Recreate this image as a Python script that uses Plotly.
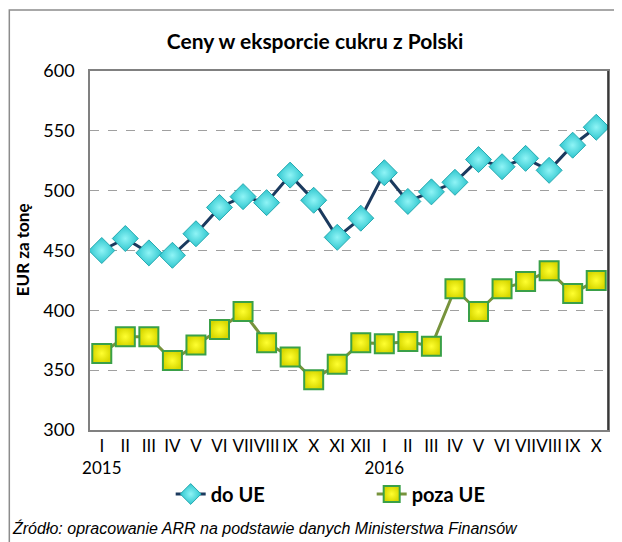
import plotly.graph_objects as go

months = ["I", "II", "III", "IV", "V", "VI", "VII", "VIII", "IX", "X", "XI", "XII",
          "I", "II", "III", "IV", "V", "VI", "VII", "VIII", "IX", "X"]
year_labels = {0: "2015", 12: "2016"}
do_ue = [450, 460, 448, 446, 464, 486, 495, 490, 513, 492, 461, 477,
         515, 491, 499, 507, 526, 520, 527, 517, 538, 553]
poza_ue = [364, 378, 378, 358, 371, 384, 399, 373, 361, 342, 355, 373,
           372, 374, 370, 418, 399, 418, 424, 433, 414, 425]

x = list(range(len(months)))
ticktext = [m + ("<br>" + year_labels[i] if i in year_labels else "") for i, m in enumerate(months)]

fig = go.Figure()
fig.add_trace(go.Scatter(
    x=x, y=do_ue, name="<b>do UE</b>", mode="lines+markers",
    line=dict(color="#1B3A5E", width=3),
    marker=dict(symbol="diamond", size=20, color="#2EC6CE",
                line=dict(color="#27A9B0", width=1),
                gradient=dict(type="radial", color="#8FF4F6")),
))
fig.add_trace(go.Scatter(
    x=x, y=poza_ue, name="<b>poza UE</b>", mode="lines+markers",
    line=dict(color="#77933C", width=3),
    marker=dict(symbol="square", size=19, color="#D8D800",
                line=dict(color="#3AA048", width=2),
                gradient=dict(type="radial", color="#FFFF30")),
))

# page body has an 8px margin; figure coordinates are window coordinates minus 8
OFF = 8
W, H = 622 - OFF, 542 - OFF
L, T = 90 - OFF, 71 - OFF
R = W - (610 - OFF)
B = H - (430 - OFF)
pw, ph = W - L - R, H - T - B


def px_x(p):
    return (p - OFF - L) / pw


def px_y(p):
    return (H - B - (p - OFF)) / ph


fig.update_layout(
    width=W, height=H,
    margin=dict(l=L, r=R, t=T, b=B),
    paper_bgcolor="white", plot_bgcolor="white",
    font=dict(family="Lato, Carlito, Arial", size=17, color="black"),
    title=dict(text="<b>Ceny w eksporcie cukru z Polski</b>", x=0.5, xanchor="center",
               y=1 - (42 - OFF) / H, yanchor="middle", font=dict(size=21, family="Lato")),
    xaxis=dict(range=[-0.5, len(months) - 0.5], tickvals=x, ticktext=ticktext,
               showgrid=False, showline=True, linecolor="#808080", linewidth=1.5,
               mirror=True, ticks="", tickfont=dict(size=17), zeroline=False,
               tickangle=0),
    yaxis=dict(range=[300, 600], dtick=50, showgrid=True, gridcolor="#A0A0A0",
               griddash="dash", gridwidth=1, showline=True, linecolor="#808080",
               linewidth=1.5, mirror=True, ticks="", tickfont=dict(size=18),
               ticklabelstandoff=10, zeroline=False),
    showlegend=True,
    legend=dict(orientation="h", x=px_x(171), xanchor="left", y=px_y(494), yanchor="middle",
                font=dict(size=20, family="Lato"), entrywidth=156, itemwidth=30,
                bgcolor="rgba(0,0,0,0)"),
)

fig.add_annotation(text="<b>EUR za tonę</b>", textangle=-90, xref="paper", yref="paper",
                   x=px_x(22), y=px_y(250), showarrow=False, xanchor="center",
                   yanchor="middle", font=dict(size=17, family="Lato"))
fig.add_annotation(text="<i>Źródło: opracowanie ARR na podstawie danych Ministerstwa Finansów</i>",
                   xref="paper", yref="paper", x=px_x(10), y=px_y(517), xanchor="left",
                   yanchor="top", showarrow=False,
                   font=dict(size=16, family="Liberation Sans, Arial"))
fig.add_shape(type="rect", xref="paper", yref="paper",
              x0=px_x(9), x1=px_x(617), y0=px_y(600), y1=px_y(10),
              line=dict(color="#8C8C8C", width=1.5), layer="below")
fig.add_shape(type="line", xref="paper", yref="paper", x0=1, x1=1, y0=0, y1=1,
              line=dict(color="#202020", width=1.5))

fig.write_html("out.html")
